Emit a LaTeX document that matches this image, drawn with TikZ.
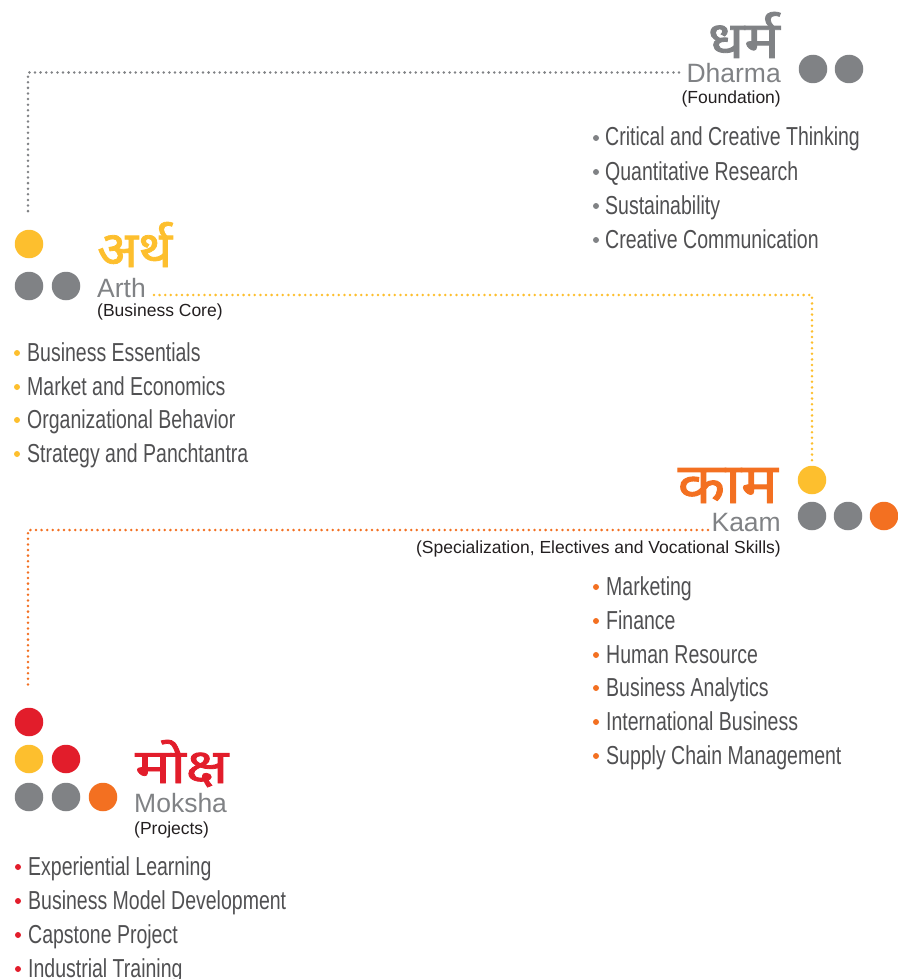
\documentclass[tikz,border=0pt]{standalone}
\usepackage{fontspec}
\setmainfont{Liberation Sans}
\newfontfamily\itemfont[FakeStretch=0.75]{Liberation Sans}
\newfontfamily\deva[Script=Devanagari,FakeBold=1.6]{Noto Sans}
\definecolor{labgray}{HTML}{808285}
\definecolor{ylw}{HTML}{FDBF2E}
\definecolor{org}{HTML}{F37021}
\definecolor{rd}{HTML}{E21D2B}
\definecolor{subdark}{HTML}{231F20}
\definecolor{itemgray}{HTML}{505052}
\begin{document}
\begin{tikzpicture}[x=1pt,y=-1pt,
  ball/.style={circle, inner sep=0pt, minimum size=28.5pt, fill=#1},
  bul/.style={circle, inner sep=0pt, minimum size=6pt, fill=#1},
  item/.style={anchor=base west, inner sep=0pt, text=itemgray, font=\itemfont\fontsize{26}{26}\selectfont},
  lblE/.style={anchor=base east, inner sep=0pt, text=labgray, font=\fontsize{26.5}{26.5}\selectfont},
  lblW/.style={anchor=base west, inner sep=0pt, text=labgray, font=\fontsize{26.5}{26.5}\selectfont},
  subE/.style={anchor=base east, inner sep=0pt, text=subdark, font=\fontsize{17.5}{17.5}\selectfont},
  subW/.style={anchor=base west, inner sep=0pt, text=subdark, font=\fontsize{17.5}{17.5}\selectfont},
  devE/.style={anchor=base east, inner sep=0pt, text=#1, font=\deva},
  devW/.style={anchor=base west, inner sep=0pt, text=#1, font=\deva},
  conn/.style={line width=2.8pt, line cap=round, dash pattern=on 0pt off 5.6pt}
]
\useasboundingbox (0,0) rectangle (897,979);

% ---------- Dharma ----------
\node[ball=labgray] (dC1) at (813,69) {};
\node[ball=labgray] (dC2) at (849,69) {};
\node[devE=labgray] (dDev) at (780,58) {\resizebox{72pt}{46pt}{धर्म}};
\node[lblE] (dLbl) at (781,83) {Dharma};
\node[subE] (dSub) at (781,104) {(Foundation)};
\foreach \t/\y [count=\i] in {Critical and Creative Thinking/146, Quantitative Research/180, Sustainability/214, Creative Communication/248}{
  \node[item] (dI\i) at (605,\y) {\t};
  \node[bul=labgray] (dB\i) at (596,\y-8) {};
}

% ---------- Arth ----------
\node[ball=ylw] (aC1) at (29,244) {};
\node[ball=labgray] (aC2) at (29,286) {};
\node[ball=labgray] (aC3) at (66,286) {};
\node[devW=ylw] (aDev) at (97,267) {\resizebox{75pt}{45pt}{अर्थ}};
\node[lblW] (aLbl) at (97,297) {Arth};
\node[subW] (aSub) at (97,316) {(Business Core)};
\foreach \t/\y [count=\i] in {Business Essentials/361, Market and Economics/395, Organizational Behavior/428, Strategy and Panchtantra/462}{
  \node[item] (aI\i) at (27,\y) {\t};
  \node[bul=ylw] (aB\i) at (17,\y-8) {};
}

% ---------- Kaam ----------
\node[ball=ylw] (kC1) at (812,480) {};
\node[ball=labgray] (kC2) at (812,516) {};
\node[ball=labgray] (kC3) at (848,516) {};
\node[ball=org] (kC4) at (884,516) {};
\node[devE=org] (kDev) at (778,503) {\resizebox{100pt}{35pt}{काम}};
\node[lblE] (kLbl) at (781,531) {Kaam};
\node[subE] (kSub) at (781,553) {(Specialization, Electives and Vocational Skills)};
\foreach \t/\y [count=\i] in {Marketing/595, Finance/629, Human Resource/663, Business Analytics/696, International Business/730, Supply Chain Management/764}{
  \node[item] (kI\i) at (606,\y) {\t};
  \node[bul=org] (kB\i) at (596,\y-8) {};
}

% ---------- Moksha ----------
\node[ball=rd] (mC1) at (29,722) {};
\node[ball=ylw] (mC2) at (29,759) {};
\node[ball=rd] (mC3) at (66,759) {};
\node[ball=labgray] (mC4) at (29,797) {};
\node[ball=labgray] (mC5) at (66,797) {};
\node[ball=org] (mC6) at (103,797) {};
\node[devW=rd] (mDev) at (135,783) {\resizebox{93pt}{43pt}{मोक्ष}};
\node[lblW] (mLbl) at (134,812) {Moksha};
\node[subW] (mSub) at (134,834) {(Projects)};
\foreach \t/\y [count=\i] in {Experiential Learning/875, Business Model Development/909, Capstone Project/943, Industrial Training/977}{
  \node[item] (mI\i) at (28,\y) {\t};
  \node[bul=rd] (mB\i) at (18,\y-8) {};
}

% ---------- dotted connectors ----------
\coordinate (gA) at (679,72.5);
\coordinate (gB) at (28,215);
\draw[conn, draw=labgray] (gA) -| (gB);
\coordinate (yA) at (154,295);
\coordinate (yB) at (812,461);
\draw[conn, draw=ylw] (yA) -| (yB);
\coordinate (oA) at (708,530);
\coordinate (oB) at (28,687);
\draw[conn, draw=org] (oA) -| (oB);
\end{tikzpicture}
\end{document}
